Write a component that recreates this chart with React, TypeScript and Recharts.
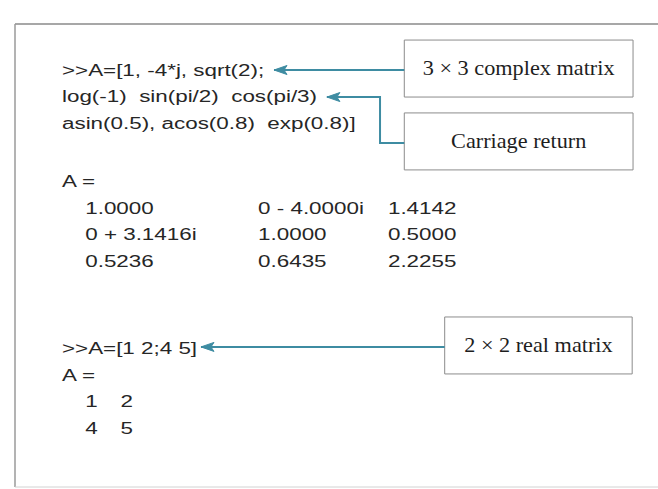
import React from "react";
import {
  ComposedChart,
  XAxis,
  YAxis,
  Scatter,
  Line,
  ReferenceArea,
  ReferenceLine,
  Label,
} from "recharts";

// ---------- content ----------
const complexPrompt = [
  ">>A=[1, -4*j, sqrt(2);",
  "log(-1)  sin(pi/2)  cos(pi/3)",
  "asin(0.5), acos(0.8)  exp(0.8)]",
];
const outputHeader = "A =";
const complexRows = [
  ["1.0000", "0 - 4.0000i", "1.4142"],
  ["0 + 3.1416i", "1.0000", "0.5000"],
  ["0.5236", "0.6435", "2.2255"],
];
const realPrompt = ">>A=[1 2;4 5]";
const realRows = [
  ["1", "2"],
  ["4", "5"],
];
const annotationLabels = ["3 \u00d7 3 complex matrix", "Carriage return", "2 \u00d7 2 real matrix"];

// ---------- layout (line / column units of the text grid) ----------
const X_DOMAIN: [number, number] = [-5.465, 69.302];
const Y_DOMAIN: [number, number] = [-1.736, 15.736];
const complexCols = [2.7, 22.8, 37.9];
const realCols = [2.7, 6.8];
const complexHeaderLine = 4.2;
const realPromptLine = 10.5;

const boxes = [
  { x1: 39.8, x2: 66.4, y1: -1.13, y2: 1.02 },
  { x1: 39.8, x2: 66.4, y1: 1.62, y2: 3.77 },
  { x1: 44.5, x2: 66.3, y1: 9.32, y2: 11.47 },
];
const arrowPaths = [
  [
    { col: 39.8, line: 0 },
    { col: 24.65, line: 0 },
  ],
  [
    { col: 39.8, line: 2.75 },
    { col: 36.98, line: 2.75 },
    { col: 36.98, line: 1.02 },
    { col: 30.8, line: 1.02 },
  ],
  [
    { col: 44.5, line: 10.45 },
    { col: 16.16, line: 10.45 },
  ],
];

type TextItem = { col: number; line: number; text: string };
const textItems: TextItem[] = [];
complexPrompt.forEach((t, i) => textItems.push({ col: 0, line: i, text: t }));
textItems.push({ col: 0, line: complexHeaderLine, text: outputHeader });
complexRows.forEach((row, r) =>
  row.forEach((t, c) =>
    textItems.push({ col: complexCols[c], line: complexHeaderLine + 1 + r, text: t })
  )
);
textItems.push({ col: 0, line: realPromptLine, text: realPrompt });
textItems.push({ col: 0, line: realPromptLine + 1, text: outputHeader });
realRows.forEach((row, r) =>
  row.forEach((t, c) =>
    textItems.push({ col: realCols[c], line: realPromptLine + 2 + r, text: t })
  )
);

const ARROW = "#3e8ca2";

const CodeText = (props: any) => {
  const { cx, cy, payload } = props;
  if (cx == null || cy == null) return <g />;
  return (
    <text
      transform={`translate(${cx} ${cy}) scale(1.4 1)`}
      x={0}
      y={0}
      dominantBaseline="central"
      textAnchor="start"
      fontFamily="'Liberation Sans', Arial, sans-serif"
      fontSize={16}
      fill="#262626"
      style={{ whiteSpace: "pre" }}
      xmlSpace="preserve"
    >
      {payload.text}
    </text>
  );
};

const ArrowDot = (len: number) => (props: any) => {
  const { cx, cy, index } = props;
  if (index !== len - 1 || cx == null) return <g key={`d${index}`} />;
  return (
    <path
      key={`d${index}`}
      d={`M ${cx} ${cy} L ${cx + 13} ${cy - 4.5} L ${cx + 10} ${cy} L ${cx + 13} ${cy + 4.5} Z`}
      fill={ARROW}
      stroke={ARROW}
      strokeWidth={1}
    />
  );
};

const BoxLabel = (text: string) => (props: any) => {
  const vb = props.viewBox || {};
  const x = vb.x + vb.width / 2;
  const y = vb.y + vb.height / 2;
  return (
    <text
      transform={`translate(${x} ${y}) scale(1.06 1)`}
      x={0}
      y={0}
      textAnchor="middle"
      dominantBaseline="central"
      fontFamily="'Liberation Serif', 'Times New Roman', serif"
      fontSize={21}
      fill="#1e1e1e"
    >
      {text}
    </text>
  );
};

export default function App() {
  return (
    <div style={{ position: "absolute", left: 0, top: 0, background: "#ffffff" }}>
      <ComposedChart
        width={658}
        height={489}
        data={textItems}
        margin={{ top: 24, right: 0, bottom: 2, left: 15 }}
      >
        <XAxis
          type="number"
          dataKey="col"
          domain={X_DOMAIN}
          allowDataOverflow
          hide
        />
        <YAxis
          type="number"
          dataKey="line"
          domain={Y_DOMAIN}
          reversed
          allowDataOverflow
          hide
        />
        {/* outer frame: top, left, bottom edges */}
        <ReferenceLine y={Y_DOMAIN[0]} stroke="#8a8a8a" strokeWidth={1.5} ifOverflow="visible" />
        <ReferenceLine x={X_DOMAIN[0]} stroke="#9a9a9a" strokeWidth={1.5} ifOverflow="visible" />
        <ReferenceLine y={Y_DOMAIN[1]} stroke="#d2d2d2" strokeWidth={1} ifOverflow="visible" />
        {boxes.map((b, i) => (
          <ReferenceArea
            key={`box${i}`}
            x1={b.x1}
            x2={b.x2}
            y1={b.y1}
            y2={b.y2}
            fill="#ffffff"
            fillOpacity={1}
            stroke="#8c8c8c"
            strokeWidth={1}
            ifOverflow="visible"
          >
            <Label content={BoxLabel(annotationLabels[i])} />
          </ReferenceArea>
        ))}
        {arrowPaths.map((p, i) => (
          <Line
            key={`arrow${i}`}
            data={p}
            dataKey="line"
            type="linear"
            stroke={ARROW}
            strokeWidth={2}
            dot={ArrowDot(p.length)}
            activeDot={false}
            isAnimationActive={false}
            legendType="none"
          />
        ))}
        <Scatter
          data={textItems}
          dataKey="line"
          shape={CodeText}
          isAnimationActive={false}
        />
      </ComposedChart>
    </div>
  );
}
